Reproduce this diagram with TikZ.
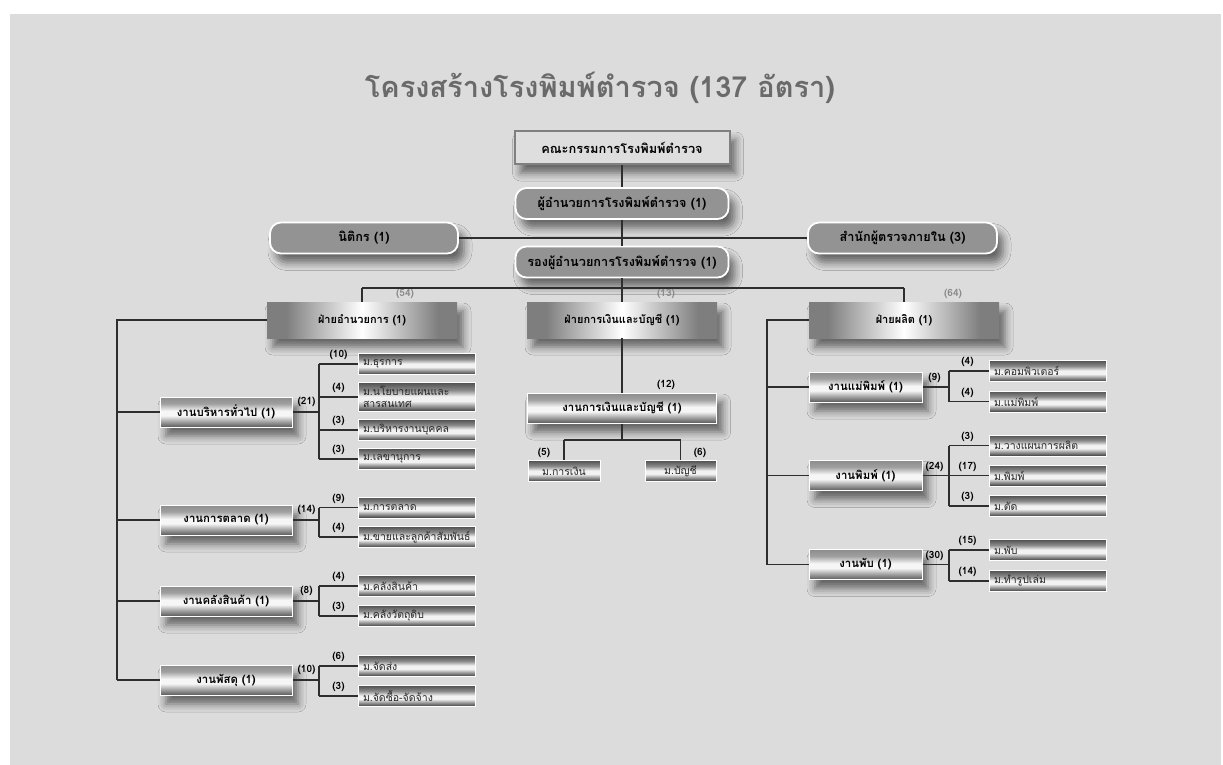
\documentclass[tikz,border=0pt]{standalone}
\usepackage{fontspec}
\newfontfamily\thai[Script=Thai]{Loma}
\usetikzlibrary{shadows.blur,calc}
\definecolor{bg}{HTML}{DCDCDC}
\definecolor{lc}{HTML}{2E2E2E}
\definecolor{rbox}{HTML}{939393}
\definecolor{boardfill}{HTML}{DEDEDE}
\definecolor{boardline}{HTML}{808080}
\definecolor{titlec}{HTML}{6A6A6A}
\definecolor{dcnt}{HTML}{8A8A8A}
% section (งาน) metallic
\definecolor{sA}{HTML}{5A5A5A}
\definecolor{sB}{HTML}{A0A0A0}
\definecolor{sC}{HTML}{F6F6F6}
\definecolor{sD}{HTML}{8C8C8C}
% leaf metallic
\definecolor{lA}{HTML}{3A3A3A}
\definecolor{lB}{HTML}{8A8A8A}
\definecolor{lC}{HTML}{F2F2F2}
\definecolor{lD}{HTML}{505050}
% stripes
\definecolor{q0}{HTML}{7E7E7E}
\definecolor{q1}{HTML}{A6A6A6}
\definecolor{q2}{HTML}{D2D2D2}
\pgfdeclareverticalshading{secshade}{100bp}{color(0bp)=(sA); color(25bp)=(sA); color(34bp)=(sB); color(44bp)=(sC); color(52bp)=(sC); color(64bp)=(sB); color(75bp)=(sD); color(100bp)=(sD)}
\pgfdeclareverticalshading{leafshade}{100bp}{color(0bp)=(lA); color(25bp)=(lA); color(33bp)=(lB); color(43bp)=(lC); color(51bp)=(lC); color(62bp)=(lB); color(75bp)=(lD); color(100bp)=(lD)}
\pgfdeclarehorizontalshading{stripe}{100bp}{color(0bp)=(q0); color(25bp)=(q0); color(30bp)=(q0); color(36bp)=(q1); color(43bp)=(q2); color(50bp)=(white); color(57bp)=(q2); color(64bp)=(q1); color(70bp)=(q0); color(75bp)=(q0); color(100bp)=(q0)}
\tikzset{
  conn/.style={draw=lc, line width=1.3pt},
  shad/.style={blur shadow={shadow xshift=6pt, shadow yshift=-9pt, shadow blur radius=8pt, shadow opacity=55}},
  boardbox/.style={fill=boardfill, draw=boardline, line width=2pt, minimum width=215pt, minimum height=33pt, inner sep=0pt, font=\thai\bfseries\fontsize{12.8}{14}\selectfont, shad},
  topbox/.style={rounded corners=11pt, fill=rbox, draw=white, line width=1.8pt, minimum width=213pt, minimum height=31pt, inner sep=0pt, font=\thai\bfseries\fontsize{12.7}{14}\selectfont, shad},
  divbox/.style={shading=stripe, minimum width=190pt, minimum height=36pt, inner sep=0pt, font=\thai\bfseries\fontsize{11}{13}\selectfont, shad},
  secbox/.style={shading=secshade, draw=white, line width=1pt, minimum height=30pt, inner sep=0pt, font=\thai\bfseries\fontsize{11.4}{13}\selectfont, shad},
  leafbox/.style={shading=leafshade, draw=white, line width=1pt, minimum height=21pt, text width=107pt, inner xsep=5pt, inner ysep=0pt, align=left, text=black!85, font=\thai\fontsize{10.5}{12.5}\selectfont},
  cnt/.style={inner sep=0pt, font=\thai\bfseries\fontsize{10}{11}\selectfont},
  gcnt/.style={cnt, text=dcnt},
  titlestyle/.style={inner sep=0pt, text=titlec, font=\thai\bfseries\fontsize{29}{32}\selectfont}
}
\begin{document}
\begin{tikzpicture}[x=1pt,y=-1pt]
\useasboundingbox (0,0) rectangle (1223,765);
\fill[white] (0,0) rectangle (1223,765);
\fill[bg] (10,14) rectangle (1221,765);

\node[titlestyle] (title) at (600,88) {โครงสร้างโรงพิมพ์ตำรวจ (137 อัตรา)};

% top
\node[boardbox] (board) at (622,147.5) {คณะกรรมการโรงพิมพ์ตำรวจ};
\node[topbox] (dir) at (622,203.5) {ผู้อำนวยการโรงพิมพ์ตำรวจ (1)};
\node[topbox, minimum width=188pt] (legal) at (364,238) {นิติกร (1)};
\node[topbox, minimum width=189pt] (audit) at (902.5,238) {สำนักผู้ตรวจภายใน (3)};
\node[topbox] (deputy) at (622,262) {รองผู้อำนวยการโรงพิมพ์ตำรวจ (1)};

% divisions
\node[divbox] (divA) at (362,320) {ฝ่ายอำนวยการ (1)};
\node[divbox] (divF) at (622,320) {ฝ่ายการเงินและบัญชี (1)};
\node[divbox] (divP) at (904,320) {ฝ่ายผลิต (1)};
\node[gcnt] (divAc) at (405,294) {(54)};
\node[gcnt] (divFc) at (666,294) {(13)};
\node[gcnt] (divPc) at (953,294) {(64)};

% left sections
\node[secbox, minimum width=132pt] (g1) at (226,412) {งานบริหารทั่วไป (1)};
\node[secbox, minimum width=132pt] (g2) at (226,520) {งานการตลาด (1)};
\node[secbox, minimum width=132pt] (g3) at (226,601) {งานคลังสินค้า (1)};
\node[secbox, minimum width=132pt] (g4) at (226,680) {งานพัสดุ (1)};
\foreach \g/\c in {g1/(21),g2/(14),g3/(8),g4/(10)}
  \node[cnt] (\g c) at ([xshift=14pt,yshift=10pt]\g.east) {\c};

% left leaves
\node[leafbox] (l11) at (416.5,364) {ม.ธุรการ};
\node[leafbox, minimum height=29pt] (l12) at (416.5,397) {ม.นโยบายแผนและ\\สารสนเทศ};
\node[leafbox] (l13) at (416.5,430) {ม.บริหารงานบุคคล};
\node[leafbox] (l14) at (416.5,459) {ม.เลขานุการ};
\node[leafbox] (l21) at (416.5,507.5) {ม.การตลาด};
\node[leafbox] (l22) at (416.5,537) {ม.ขายและลูกค้าสัมพันธ์};
\node[leafbox] (l31) at (416.5,586) {ม.คลังสินค้า};
\node[leafbox] (l32) at (416.5,616) {ม.คลังวัตถุดิบ};
\node[leafbox] (l41) at (416.5,666) {ม.จัดส่ง};
\node[leafbox] (l42) at (416.5,696) {ม.จัดซื้อ-จัดจ้าง};
\foreach \l/\c in {l11/(10),l12/(4),l13/(3),l14/(3),l21/(9),l22/(4),l31/(4),l32/(3),l41/(6),l42/(3)}
  \node[cnt] (\l c) at ([xshift=-19pt,yshift=9pt]\l.west) {\c};

% middle
\node[secbox, minimum width=189pt] (gF) at (622,408) {งานการเงินและบัญชี (1)};
\node[cnt] (gFc) at (666,385) {(12)};
\node[leafbox, text width=62pt, align=center] (m1) at (564,471) {ม.การเงิน};
\node[leafbox, text width=61pt, align=center] (m2) at (680.5,471) {ม.บัญชี};
\node[cnt] (m1c) at ([xshift=-20pt,yshift=7pt]m1.north) {(5)};
\node[cnt] (m2c) at ([xshift=19.5pt,yshift=7pt]m2.north) {(6)};

% right sections
\node[secbox, minimum width=113pt] (p1) at (865.5,387) {งานแม่พิมพ์ (1)};
\node[secbox, minimum width=113pt] (p2) at (865.5,475.5) {งานพิมพ์ (1)};
\node[secbox, minimum width=113pt] (p3) at (865.5,564.5) {งานพับ (1)};
\foreach \g/\c in {p1/(9),p2/(24),p3/(30)}
  \node[cnt] (\g c) at ([xshift=12pt,yshift=9pt]\g.east) {\c};

% right leaves
\node[leafbox] (r11) at (1047.5,371) {ม.คอมพิวเตอร์};
\node[leafbox] (r12) at (1047.5,401.5) {ม.แม่พิมพ์};
\node[leafbox] (r21) at (1047.5,445.5) {ม.วางแผนการผลิต};
\node[leafbox] (r22) at (1047.5,475.5) {ม.พิมพ์};
\node[leafbox] (r23) at (1047.5,506) {ม.ตัด};
\node[leafbox] (r31) at (1047.5,550) {ม.พับ};
\node[leafbox] (r32) at (1047.5,581) {ม.ทำรูปเล่ม};
\foreach \l/\c in {r11/(4),r12/(4),r21/(3),r22/(17),r23/(3),r31/(15),r32/(14)}
  \node[cnt] (\l c) at ([xshift=-21pt,yshift=9pt]\l.west) {\c};

% ---------- connectors ----------
\draw[conn] (board.south) -- (dir.north);
\draw[conn] (dir.south) -- (deputy.north);
\draw[conn] (legal.east) -- (audit.west);
\coordinate (busL) at (362,288);
\coordinate (busR) at (904,288);
\draw[conn] (deputy.south) -- (divF.north);
\draw[conn] (busL) -- (busR);
\draw[conn] (busL) -- (divA.north);
\draw[conn] (busR) -- (divP.north);

% left trunk
\coordinate (tL) at (117,320);
\draw[conn] (divA.west) -- (tL) -- (tL |- g4.west);
\foreach \g in {g1,g2,g3,g4} \draw[conn] (tL |- \g.west) -- (\g.west);
\coordinate (bL) at (319,0);
\foreach \g/\a/\b in {g1/l11/l14,g2/l21/l22,g3/l31/l32,g4/l41/l42} {
  \draw[conn] (\g.east) -- (bL |- \g.east);
  \draw[conn] (bL |- \a.west) -- (bL |- \b.west);
}
\foreach \l in {l11,l12,l13,l14,l21,l22,l31,l32,l41,l42}
  \draw[conn] (bL |- \l.west) -- (\l.west);

% middle
\draw[conn] (divF.south) -- (gF.north);
\coordinate (mb) at (622,440);
\draw[conn] (gF.south) -- (mb);
\draw[conn] (mb -| m1.north) -- (mb -| m2.north);
\draw[conn] (mb -| m1.north) -- (m1.north);
\draw[conn] (mb -| m2.north) -- (m2.north);

% right trunk
\coordinate (tR) at (767,320);
\draw[conn] (divP.west) -- (tR) -- (tR |- p3.west);
\foreach \g in {p1,p2,p3} \draw[conn] (tR |- \g.west) -- (\g.west);
\coordinate (bR) at (949,0);
\foreach \g/\a/\b in {p1/r11/r12,p2/r21/r23,p3/r31/r32} {
  \draw[conn] (\g.east) -- (bR |- \g.east);
  \draw[conn] (bR |- \a.west) -- (bR |- \b.west);
}
\foreach \l in {r11,r12,r21,r22,r23,r31,r32}
  \draw[conn] (bR |- \l.west) -- (\l.west);
\end{tikzpicture}
\end{document}
